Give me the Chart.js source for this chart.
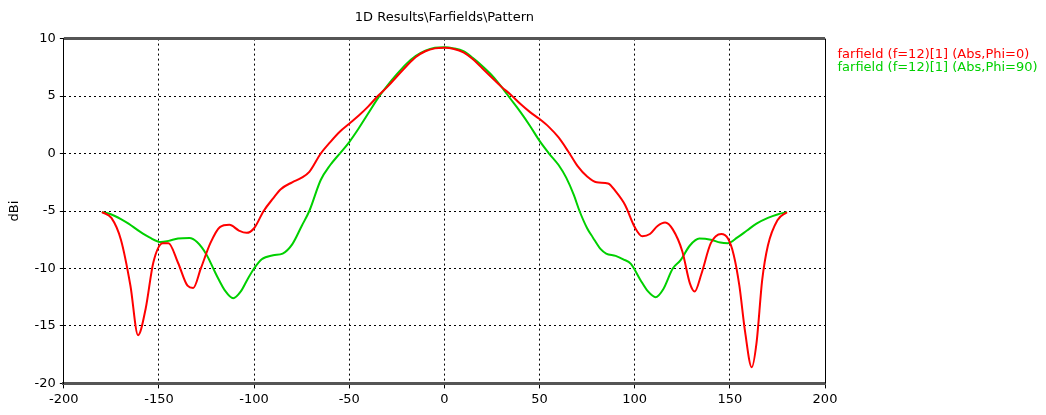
<!DOCTYPE html>
<html>
<head>
<meta charset="utf-8">
<script src="https://cdn.jsdelivr.net/npm/chart.js@4"></script>
<style>
  html, body { margin: 0; padding: 0; background: #fff; }
  #wrap { width: 1046px; height: 415px; }
</style>
</head>
<body>
<div id="wrap"><canvas id="myChart" width="1046" height="415"></canvas></div>
<script>
// theta (deg) and gain (dBi)
const anglesPhi0 = [-180, -175, -170, -165, -161, -157, -153, -148, -145, -140, -135, -132, -128, -123, -118, -113, -108, -104, -100, -95, -90, -86, -80, -75, -71, -65, -60, -55, -50, -45, -40, -35, -30, -25, -20, -15, -10, -5, 0, 5, 10, 15, 20, 25, 30, 35, 40, 45, 50, 55, 60, 65, 70, 75, 80, 86, 90, 95, 100, 104, 108, 112, 116, 120, 125, 129, 131.5, 135, 140, 145.5, 149, 152, 155, 158, 161.5, 164, 167, 170, 175, 180];
const gainPhi0 = [-5.1, -5.6, -7.5, -11.5, -15.8, -13.5, -9.5, -7.8, -7.8, -9.5, -11.5, -11.7, -10.0, -7.8, -6.4, -6.2, -6.7, -6.9, -6.5, -5.0, -3.9, -3.1, -2.5, -2.1, -1.6, 0.0, 1.0, 1.9, 2.6, 3.3, 4.1, 5.0, 5.8, 6.7, 7.6, 8.4, 8.9, 9.15, 9.2, 9.1, 8.8, 8.2, 7.4, 6.6, 5.8, 5.1, 4.3, 3.6, 3.0, 2.3, 1.4, 0.2, -1.1, -2.0, -2.5, -2.6, -3.3, -4.5, -6.4, -7.2, -7.0, -6.3, -6.0, -6.6, -8.5, -11.3, -12.0, -10.5, -7.8, -7.0, -7.4, -8.8, -11.5, -15.5, -18.6, -16.5, -11.0, -8.0, -5.8, -5.1];

const anglesPhi90 = [-180, -175, -170, -166, -160, -155, -149, -145, -140, -134, -130, -125, -120, -115, -111, -107, -103, -100, -96, -90, -85, -80, -75, -71, -65, -60, -55, -50, -45, -40, -35, -30, -25, -20, -15, -10, -5, 0, 5, 10, 15, 20, 25, 30, 35, 40, 45, 50, 55, 60, 64, 68, 71, 75, 78, 82, 85, 90, 94, 98, 103, 107, 111, 115, 120, 124, 129, 134, 140, 145, 149, 154, 159, 164, 170, 175, 180];
const gainPhi90 = [-5.1, -5.3, -5.7, -6.1, -6.8, -7.3, -7.7, -7.6, -7.4, -7.35, -7.7, -8.8, -10.5, -12.0, -12.6, -12.0, -10.8, -10.0, -9.2, -8.85, -8.7, -7.9, -6.3, -5.0, -2.3, -1.0, 0.0, 1.0, 2.2, 3.5, 4.8, 5.9, 6.9, 7.8, 8.5, 8.95, 9.2, 9.25, 9.15, 8.9, 8.3, 7.6, 6.8, 5.8, 4.7, 3.6, 2.4, 1.1, 0.0, -1.0, -2.1, -3.6, -5.0, -6.5, -7.3, -8.3, -8.7, -8.9, -9.2, -9.6, -11.0, -12.0, -12.5, -11.8, -10.0, -9.3, -8.0, -7.4, -7.5, -7.75, -7.8, -7.3, -6.7, -6.1, -5.6, -5.3, -5.1];

const seriesNames = ['farfield (f=12)[1] (Abs,Phi=0)', 'farfield (f=12)[1] (Abs,Phi=90)'];
const seriesColors = ['#ff0000', '#00d000'];

const xTicks = [-200, -150, -100, -50, 0, 50, 100, 150, 200];
const yTicks = [-20, -15, -10, -5, 0, 5, 10];

const FONT = 'DejaVu Sans';
const FS = 13;

function pts(xs, ys) {
  return xs.map((x, i) => ({ x: x, y: ys[i] }));
}

// top / right frame lines
const framePlugin = {
  id: 'frame',
  afterDatasetsDraw(chart) {
    const a = chart.chartArea, ctx = chart.ctx;
    ctx.save();
    ctx.strokeStyle = '#555';
    ctx.lineWidth = 3;
    ctx.beginPath();
    ctx.moveTo(a.left, a.top);
    ctx.lineTo(a.right, a.top);
    ctx.stroke();
    ctx.strokeStyle = '#000';
    ctx.lineWidth = 1;
    ctx.beginPath();
    ctx.moveTo(a.right + 0.5, a.top);
    ctx.lineTo(a.right + 0.5, a.bottom);
    ctx.stroke();
    ctx.restore();
  }
};

const data = {
  datasets: [
    {
      label: seriesNames[0],
      data: pts(anglesPhi0, gainPhi0),
      borderColor: seriesColors[0],
      backgroundColor: seriesColors[0],
      borderWidth: 2,
      pointRadius: 0,
      cubicInterpolationMode: 'monotone'
    },
    {
      label: seriesNames[1],
      data: pts(anglesPhi90, gainPhi90),
      borderColor: seriesColors[1],
      backgroundColor: seriesColors[1],
      borderWidth: 2,
      pointRadius: 0,
      cubicInterpolationMode: 'monotone'
    }
  ]
};

const gridColor = (c) => {
  if (!c.tick) return '#000';
  const v = c.tick.value;
  return (v === -200 || v === 200 || v === -20 || v === 10) ? 'rgba(0,0,0,0)' : '#000';
};

const config = {
  type: 'line',
  data,
  plugins: [framePlugin],
  options: {
    responsive: false,
    animation: false,
    layout: { padding: { left: 7, right: 0, top: 2, bottom: 5 } },
    plugins: {
      title: { display: false },
      legend: {
        position: 'right',
        align: 'start',
        maxWidth: 221,
        title: { display: true, text: '', font: { family: FONT, size: FS }, padding: { top: 0, bottom: 31 } },
        labels: {
          boxWidth: 6,
          boxHeight: 0,
          padding: 0,
          font: { family: FONT, size: FS },
          generateLabels(chart) {
            return chart.data.datasets.map((ds, i) => ({
              text: ds.label,
              fontColor: seriesColors[i],
              fillStyle: 'rgba(0,0,0,0)',
              strokeStyle: 'rgba(0,0,0,0)',
              lineWidth: 0,
              datasetIndex: i
            }));
          }
        }
      },
      tooltip: { enabled: false }
    },
    scales: {
      x: {
        type: 'linear',
        min: -200,
        max: 200,
        afterBuildTicks: (s) => { s.ticks = xTicks.map(v => ({ value: v })); },
        ticks: { color: '#000', font: { family: FONT, size: FS }, padding: 3, maxRotation: 0 },
        grid: { color: gridColor, lineWidth: 1, tickLength: 5, tickColor: '#000', drawTicks: true },
        border: { color: '#555', width: 3, dash: [2, 3] }
      },
      xTop: {
        type: 'linear',
        position: 'top',
        min: -200,
        max: 200,
        ticks: { display: false },
        grid: { display: false, drawTicks: false },
        border: { display: false },
        title: {
          display: true,
          text: '1D Results\\Farfields\\Pattern',
          color: '#000',
          font: { family: FONT, size: FS },
          padding: { top: 8, bottom: 13 }
        }
      },
      y: {
        min: -20,
        max: 10,
        afterBuildTicks: (s) => { s.ticks = yTicks.map(v => ({ value: v })); },
        title: { display: true, text: 'dBi', color: '#000', font: { family: FONT, size: FS }, padding: { top: 0, bottom: 8 } },
        ticks: { color: '#000', font: { family: FONT, size: FS }, padding: 4 },
        grid: { color: gridColor, lineWidth: 1, tickLength: 4, tickColor: '#000', drawTicks: true },
        border: { color: '#000', width: 1, dash: [2, 3] }
      }
    }
  }
};

const myChart = new Chart(document.getElementById('myChart'), config);
</script>
</body>
</html>
